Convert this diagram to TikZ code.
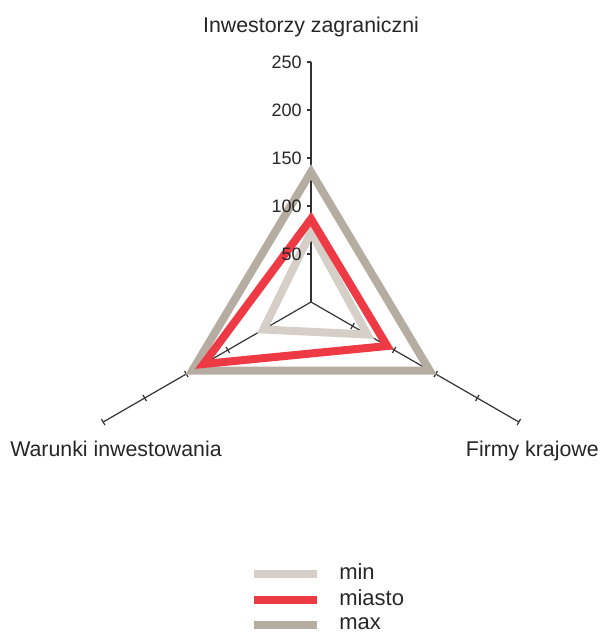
\documentclass[tikz,border=0pt]{standalone}
\usepackage{fontspec}
\setmainfont{Liberation Sans}
\usetikzlibrary{calc}
\definecolor{cmin}{HTML}{D5CFC7}
\definecolor{cmiasto}{HTML}{EE3A45}
\definecolor{cmax}{HTML}{B5ADA1}
\definecolor{caxis}{HTML}{333333}
\begin{document}
\begin{tikzpicture}[x=0.75pt,y=0.75pt,
  axisline/.style={draw=caxis,line width=0.9pt},
  series/.style={line width=6pt,line join=miter},
  catlabel/.style={font=\fontsize{16}{19}\selectfont,text=black!85,inner sep=0pt},
  ticklabel/.style={font=\fontsize{13.5}{16}\selectfont,text=black!85,inner sep=0pt,anchor=east},
  legtext/.style={font=\fontsize{16.5}{19}\selectfont,text=black!85,inner sep=0pt,anchor=base west}]
\useasboundingbox (0,0) rectangle (606,-633);
\coordinate (C) at (311,-302);
% axes
\draw[axisline] (C) -- ++(90:240) coordinate (T);
\draw[axisline] (C) -- ++(210:240) coordinate (L);
\draw[axisline] (C) -- ++(-30:240) coordinate (R);
% diagonal ticks
\foreach \v in {1,...,5}{
  \draw[axisline] ($(C)+(210:\v*48)$) ++(120:3.5) -- ++(300:7);
  \draw[axisline] ($(C)+(-30:\v*48)$) ++(60:3.5) -- ++(240:7);
}
% series
\coordinate (maxT) at ($(C)+(90:130)$);
\coordinate (maxL) at ($(C)+(210:137)$);
\coordinate (maxR) at ($(C)+(-30:137)$);
\coordinate (minT) at ($(C)+(90:70)$);
\coordinate (minL) at ($(C)+(210:55)$);
\coordinate (minR) at ($(C)+(-30:65)$);
\coordinate (miaT) at ($(C)+(90:83)$);
\coordinate (miaL) at ($(C)+(210:124)$);
\coordinate (miaR) at ($(C)+(-30:88)$);
\draw[series,cmax] (maxT) -- (maxL) -- (maxR) -- cycle;
\draw[series,cmin] (minT) -- (minL) -- (minR) -- cycle;
\draw[series,cmiasto] (miaT) -- (miaL) -- (miaR) -- cycle;
% top ticks and labels
\foreach \v in {50,100,150,200,250}{
  \draw[axisline] ($(C)+(0,\v*0.96)$) coordinate (t\v) -- ++(-4,0);
  \node[ticklabel] (lab\v) at ($(t\v)+(-9,0)$) {\v};
}
% category labels
\node[catlabel,anchor=base] (catT) at (311,-32) {Inwestorzy zagraniczni};
\node[catlabel,anchor=base west] (catL) at (10,-456) {Warunki inwestowania};
\node[catlabel,anchor=base east] (catR) at (599,-456) {Firmy krajowe};
% legend
\draw[cmin,line width=6pt] (254,-574) -- (317,-574);
\draw[cmiasto,line width=6pt] (254,-600) -- (317,-600);
\draw[cmax,line width=6pt] (254,-625) -- (317,-625);
\node[legtext] (lmin) at (339,-579) {min};
\node[legtext] (lmia) at (339,-605) {miasto};
\node[legtext] (lmax) at (339,-629) {max};
\end{tikzpicture}
\end{document}
